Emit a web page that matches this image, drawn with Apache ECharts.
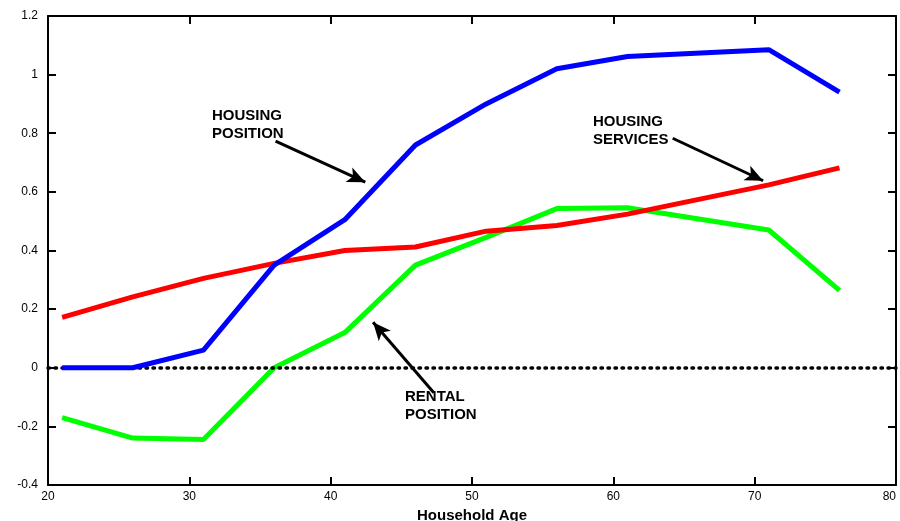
<!DOCTYPE html>
<html>
<head>
<meta charset="utf-8">
<script src="https://cdn.jsdelivr.net/npm/echarts@6/dist/echarts.min.js"></script>
<style>
  html, body { margin: 0; padding: 0; background: #fff; }
  #chart { width: 900px; height: 521px; }
</style>
</head>
<body>
<div id="chart"></div>
<script>
// household age of each estimate
var ages = [21, 26, 31, 36, 41, 46, 51, 56, 61, 71, 76];
var housingPosition = [0, 0, 0.06, 0.35, 0.505, 0.76, 0.90, 1.02, 1.062, 1.085, 0.94];
var housingServices = [0.172, 0.242, 0.305, 0.356, 0.40, 0.412, 0.466, 0.485, 0.524, 0.624, 0.682];
var rentalPosition = [-0.17, -0.24, -0.245, 0.0, 0.12, 0.35, 0.445, 0.543, 0.546, 0.47, 0.264];

// arrow annotations [from, to] in data coords
var arrowHousingPos = [[36.1, 0.773], [42.45, 0.633]];
var arrowHousingSrv = [[64.2, 0.783], [70.6, 0.638]];
var arrowRental = [[47.3, -0.085], [43.0, 0.155]];

function pairs(xs, ys) {
    return xs.map(function (x, i) { return [x, ys[i]]; });
}

function arrow(a) {
    return [{ coord: a[0] }, { coord: a[1] }];
}

var chart = echarts.init(document.getElementById('chart'));

var tickStyle = { show: true, inside: true, length: 8, lineStyle: { color: '#000', width: 2 } };
var lineAxis = { show: true, onZero: false, lineStyle: { color: '#000', width: 2 } };
var font = 'Liberation Sans, Arial, sans-serif';

function note(text, left, top) {
    return {
        type: 'text', left: left, top: top, z: 20,
        style: { text: text, fontSize: 15, fontWeight: 'bold', lineHeight: 18, fill: '#000', fontFamily: font }
    };
}

option = {
    animation: false,
    backgroundColor: '#fff',
    grid: { left: 48, top: 16, right: 4, bottom: 36, outerBoundsMode: 'none' },
    xAxis: [{
        type: 'value', min: 20, max: 80, interval: 10,
        axisLine: lineAxis, axisTick: tickStyle, splitLine: { show: false },
        axisLabel: { fontSize: 12, margin: 6, color: '#000', fontFamily: font, alignMaxLabel: 'right' },
        name: 'Household Age', nameLocation: 'middle', nameGap: 22,
        nameTextStyle: { fontSize: 15, fontWeight: 'bold', color: '#000', fontFamily: font }
    }, {
        type: 'value', min: 20, max: 80, interval: 10, position: 'top',
        axisLine: lineAxis, axisTick: tickStyle, axisLabel: { show: false }, splitLine: { show: false }
    }],
    yAxis: [{
        type: 'value', min: -0.4, max: 1.2, interval: 0.2,
        axisLine: lineAxis, axisTick: tickStyle, splitLine: { show: false },
        axisLabel: {
            fontSize: 12, margin: 10, color: '#000', fontFamily: font,
            formatter: function (v) { return +v.toFixed(1) + ''; }
        }
    }, {
        type: 'value', min: -0.4, max: 1.2, interval: 0.2, position: 'right',
        axisLine: lineAxis, axisTick: tickStyle, axisLabel: { show: false }, splitLine: { show: false }
    }],
    series: [{
        name: 'Rental Position', type: 'line', data: pairs(ages, rentalPosition),
        showSymbol: false, lineStyle: { color: '#00ff00', width: 5 }, z: 3
    }, {
        name: 'Housing Services', type: 'line', data: pairs(ages, housingServices),
        showSymbol: false, lineStyle: { color: '#ff0000', width: 5 }, z: 4
    }, {
        name: 'Housing Position', type: 'line', data: pairs(ages, housingPosition),
        showSymbol: false, lineStyle: { color: '#0000ff', width: 5 }, z: 5
    }, {
        name: 'zero', type: 'line', data: [], silent: true, z: 10,
        markLine: {
            silent: true, symbol: 'none', animation: false,
            label: { show: false },
            lineStyle: { color: '#000', width: 3.5, type: [1.5, 5.5], cap: 'round' },
            data: [[{ coord: [20, 0] }, { coord: [80, 0] }]]
        }
    }, {
        name: 'arrows', type: 'line', data: [], silent: true, z: 11,
        markLine: {
            silent: true, animation: false,
            symbol: ['none', 'arrow'], symbolSize: [12, 18],
            label: { show: false },
            lineStyle: { color: '#000', width: 3, type: 'solid' },
            itemStyle: { color: '#000' },
            data: [arrow(arrowHousingPos), arrow(arrowHousingSrv), arrow(arrowRental)]
        }
    }],
    graphic: [
        note('HOUSING\nPOSITION', 212, 107),
        note('HOUSING\nSERVICES', 593, 113),
        note('RENTAL\nPOSITION', 405, 388)
    ],
    color: ['#00ff00', '#ff0000', '#0000ff', '#000', '#000']
};
chart.setOption(option);
</script>
</body>
</html>
